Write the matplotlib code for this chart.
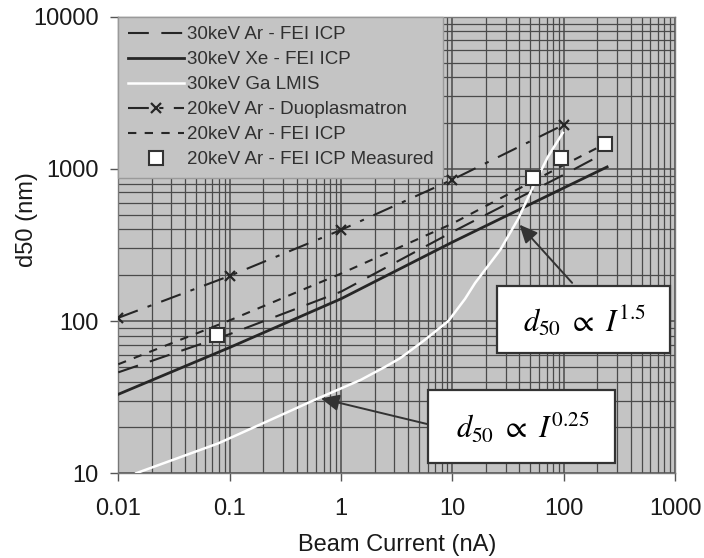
import matplotlib
matplotlib.use("Agg")
import matplotlib.pyplot as plt
from matplotlib.patches import Rectangle
from matplotlib.ticker import LogLocator, FixedLocator, FixedFormatter, NullFormatter

plt.rcParams['font.family'] = ['Liberation Sans', 'DejaVu Sans']
plt.rcParams['mathtext.fontset'] = 'stix'

# values
ar30_x = [0.01, 0.1, 1, 10, 100, 226]
ar30_y = [46, 82, 156, 385, 915, 1256]

xe30_x = [0.01, 0.1, 1, 10, 100, 245]
xe30_y = [33, 67, 140, 330, 750, 1030]

ga_x = [0.0145, 0.079, 0.22, 0.62, 1.5, 2.49, 3.4, 5.5, 9.2, 13, 16, 27, 39, 53, 72, 98]
ga_y = [10, 15.7, 22, 31, 41, 50, 57, 74, 100, 140, 178, 295, 470, 762, 1200, 1726]

duo_x = [0.01, 0.1, 1, 10, 100]
duo_y = [105, 198, 397, 850, 1950]

ar20_x = [0.01, 0.1, 1, 10, 100, 210]
ar20_y = [52, 101, 205, 437, 1060, 1400]

meas_x = [0.077, 53, 95, 235]
meas_y = [81, 873, 1180, 1460]

x_ticks = [0.01, 0.1, 1, 10, 100, 1000]
x_labels = ['0.01', '0.1', '1', '10', '100', '1000']
y_ticks = [10, 100, 1000, 10000]
y_labels = ['10', '100', '1000', '10000']

bg = '#c4c4c4'
ink = '#262626'
gridc = '#4a4a4a'

fig = plt.figure(figsize=(7.04, 5.58), dpi=100)
ax = fig.add_axes([0.168, 0.152, 0.791, 0.818])
ax.set_facecolor(bg)
ax.set_xscale('log')
ax.set_yscale('log')
ax.set_xlim(0.01, 1000)
ax.set_ylim(10, 10000)

ax.plot(ar30_x, ar30_y, color=ink, lw=1.5, dashes=(10, 6), label='30keV Ar - FEI ICP', zorder=3)
ax.plot(xe30_x, xe30_y, color=ink, lw=2.0, label='30keV Xe - FEI ICP', zorder=3)
ax.plot(ga_x, ga_y, color='white', lw=1.8, label='30keV Ga LMIS', zorder=3)
ax.plot(duo_x, duo_y, color=ink, lw=1.5, dashes=(10, 5, 2, 5), marker='x', ms=7, mew=1.6,
        label='20keV Ar - Duoplasmatron', zorder=3)
ax.plot(ar20_x, ar20_y, color=ink, lw=1.5, dashes=(4, 4), label='20keV Ar - FEI ICP', zorder=3)
ax.plot(meas_x, meas_y, ls='none', marker='s', ms=10, mfc='white', mec='#333333', mew=1.5,
        label='20keV Ar - FEI ICP Measured', zorder=4)

# grid
ax.xaxis.set_minor_locator(LogLocator(base=10, subs=range(2, 10)))
ax.yaxis.set_minor_locator(LogLocator(base=10, subs=range(2, 10)))
ax.xaxis.set_minor_formatter(NullFormatter())
ax.yaxis.set_minor_formatter(NullFormatter())
ax.grid(True, which='major', color=gridc, lw=1.1, zorder=1)
ax.grid(True, which='minor', color=gridc, lw=0.9, zorder=1)
ax.set_axisbelow(True)

ax.xaxis.set_major_locator(FixedLocator(x_ticks))
ax.xaxis.set_major_formatter(FixedFormatter(x_labels))
ax.yaxis.set_major_locator(FixedLocator(y_ticks))
ax.yaxis.set_major_formatter(FixedFormatter(y_labels))
ax.tick_params(which='major', direction='out', length=6, width=1, color='#555555',
               labelsize=17, labelcolor='#1a1a1a')
ax.tick_params(axis='x', which='major', pad=12)
ax.tick_params(axis='y', which='major', pad=8)
ax.tick_params(which='minor', length=0)
for s in ax.spines.values():
    s.set_color('#777777')
    s.set_linewidth(1)

ax.set_xlabel('Beam Current (nA)', fontsize=17, color='#1a1a1a')
ax.set_ylabel('d50 (nm)', fontsize=17, color='#1a1a1a')
ax.xaxis.set_label_coords(0.5, -0.134)
ax.yaxis.set_label_coords(-0.145, 0.555)

leg = ax.legend(loc='upper left', borderaxespad=0, fontsize=13.5, handlelength=3.0,
                handletextpad=0.15, labelspacing=0.42, fancybox=False, framealpha=1,
                borderpad=0.5)
leg.get_frame().set_facecolor(bg)
leg.get_frame().set_edgecolor('#9a9a9a')
for t in leg.get_texts():
    t.set_color('#303030')

# annotation boxes
for (x0, y0, w, h) in [(0.680, 0.263, 0.311, 0.147), (0.557, 0.022, 0.335, 0.160)]:
    ax.add_patch(Rectangle((x0, y0), w, h, transform=ax.transAxes, fc='white',
                           ec='#333333', lw=1.6, zorder=6))
ax.text(0.838, 0.333, r'$d_{50}\ \propto\ I^{1.5}$', transform=ax.transAxes,
        fontsize=22, ha='center', va='center', zorder=7)
ax.text(0.726, 0.098, r'$d_{50}\ \propto\ I^{0.25}$', transform=ax.transAxes,
        fontsize=22, ha='center', va='center', zorder=7)

arrow = dict(arrowstyle='-|>,head_length=1.1,head_width=0.5', color='#333333', lw=1.4,
             shrinkA=0, shrinkB=0)
ax.annotate('', xy=(40, 430), xycoords='data', xytext=(0.815, 0.417),
            textcoords='axes fraction', arrowprops=arrow, zorder=5)
ax.annotate('', xy=(0.66, 31), xycoords='data', xytext=(0.557, 0.107),
            textcoords='axes fraction', arrowprops=arrow, zorder=5)

fig.savefig('out.png', dpi=100)
